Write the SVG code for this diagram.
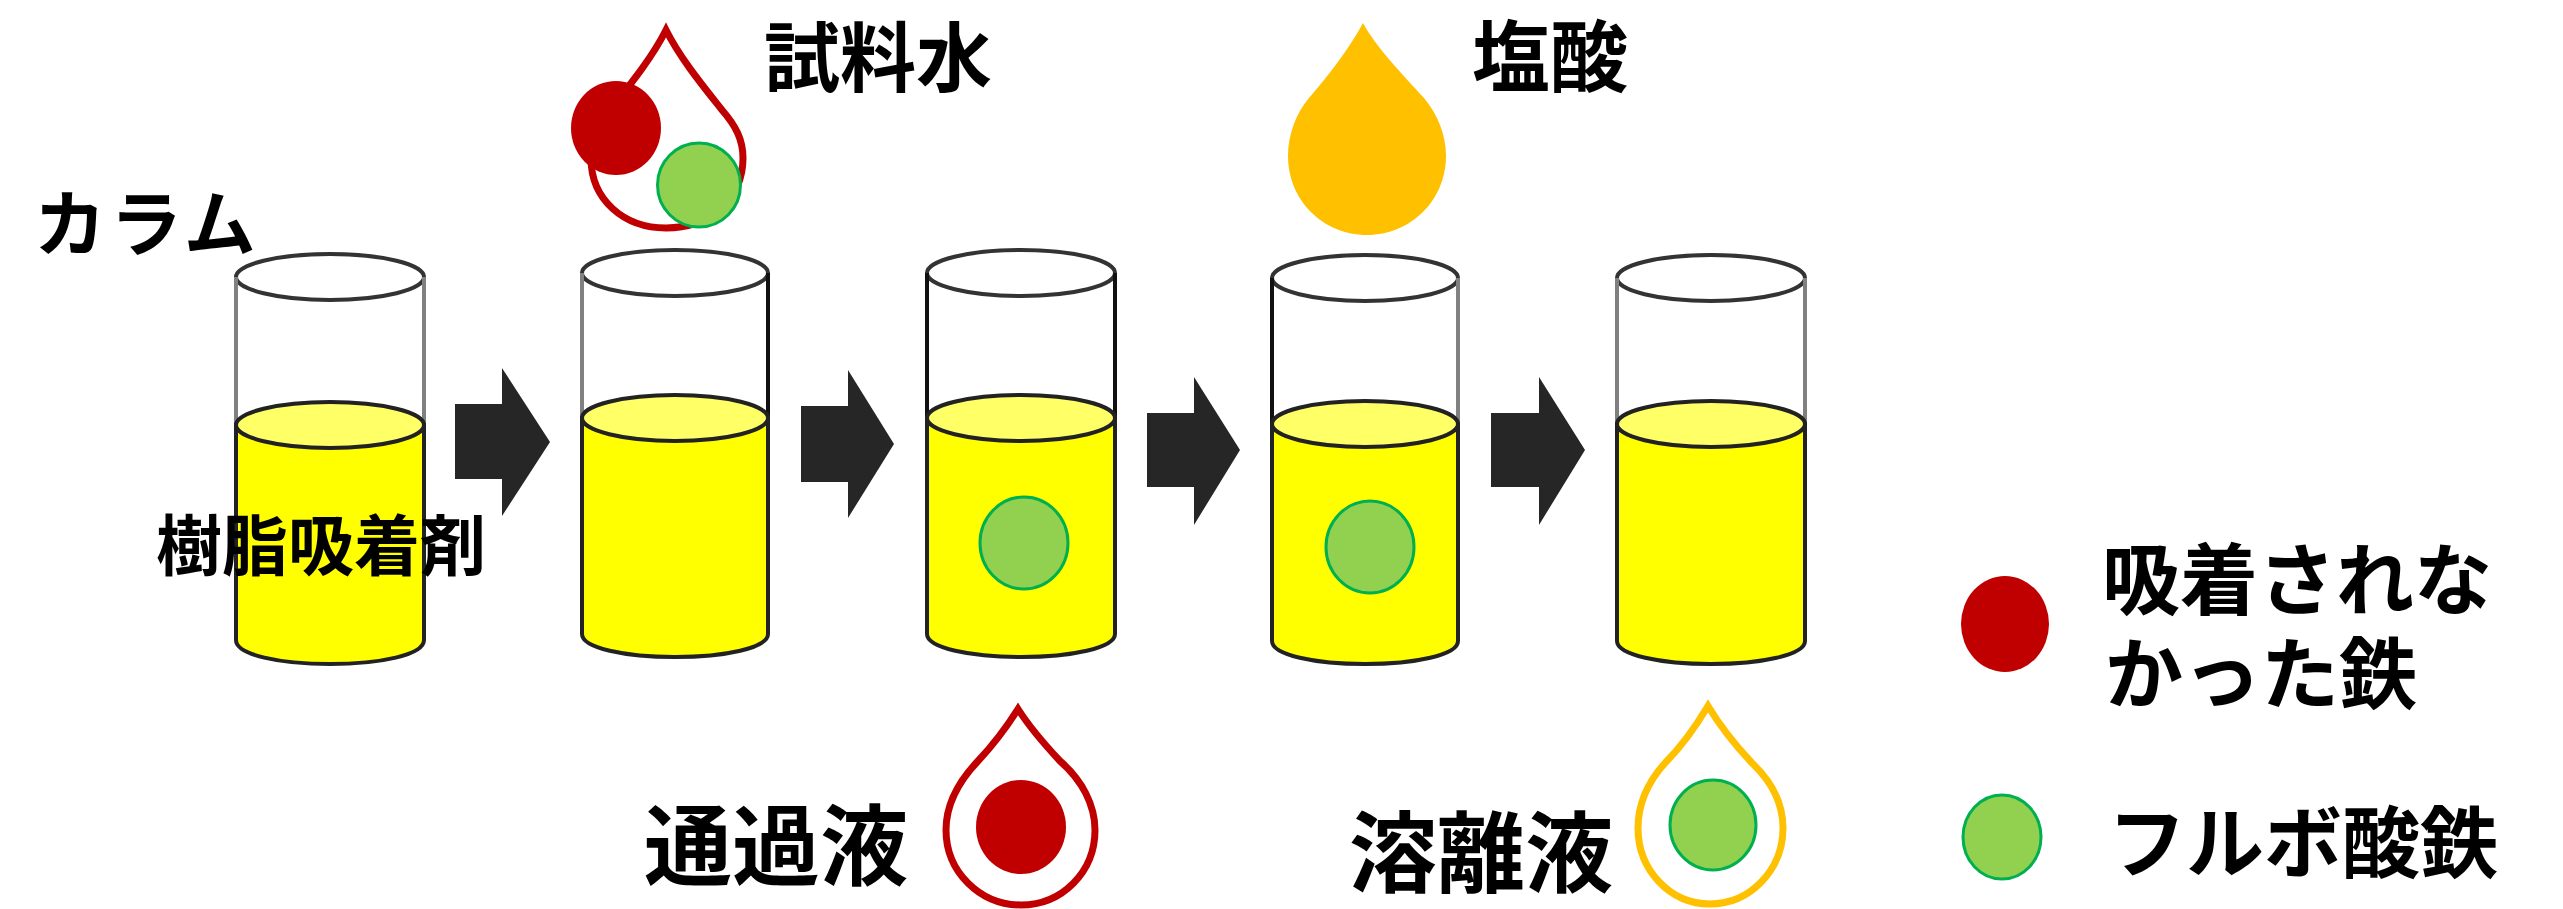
<svg xmlns="http://www.w3.org/2000/svg" width="2563" height="909" viewBox="0 0 2563 909">
  <style>
    text { font-family: "Noto Sans CJK JP", "Noto Sans", sans-serif; font-weight: 700; fill: #000; }
    .rim { fill: #fff; stroke: #333; stroke-width: 4; }
    .wall { fill: none; stroke-width: 4; }
    .liquid { fill: #ff0; stroke: #222; stroke-width: 4; }
    .surface { fill: #ff6; stroke: #222; stroke-width: 4; }
    .fe-red { fill: #c00000; }
    .fe-green { fill: #92d050; stroke: #00b050; stroke-width: 3; }
    .step { fill: #262626; }
    .drop-red { fill: #fff; stroke: #c00000; stroke-width: 7; }
    .drop-amber { fill: #fff; stroke: #ffc000; stroke-width: 7; }
  </style>

  <!-- Process-step arrows between the columns -->
  <g id="connectors">
    <path class="step" d="M455 404H502V368L550 442L502 516V479H455Z"/>
    <path class="step" d="M801 406H848V370L894 444L848 518V482H801Z"/>
    <path class="step" d="M1147 413H1194V377L1240 450L1194 525V487H1147Z"/>
    <path class="step" d="M1491 413H1539V377L1585 450L1539 525V487H1491Z"/>
  </g>

  <!-- Column 1: resin only -->
  <g id="column-1">
    <ellipse class="rim" cx="330" cy="277" rx="94" ry="23"/>
    <path class="wall" stroke="#808080" d="M236 277V425M424 277V425"/>
    <path class="liquid" d="M236 425V640C236 655 280 664 330 664C380 664 424 655 424 640V425Z"/>
    <ellipse class="surface" cx="330" cy="425" rx="94" ry="23"/>
    <text x="156" y="570" font-size="66">樹脂吸着剤</text>
  </g>
  <text id="label-column" x="34" y="250" font-size="72" letter-spacing="4">カラム</text>

  <!-- Column 2: sample water is added -->
  <g id="column-2">
    <ellipse class="rim" cx="675" cy="273" rx="93" ry="23"/>
    <path class="wall" stroke="#808080" d="M582 273V418"/>
    <path class="wall" stroke="#111" d="M768 273V418"/>
    <path class="liquid" d="M582 418V634C582 648 625 657 675 657C725 657 768 648 768 634V418Z"/>
    <ellipse class="surface" cx="675" cy="418" rx="93" ry="23"/>
  </g>
  <g id="drop-sample">
    <path class="drop-red" d="M666 30C680 58 703 86 722 110C736 126 743 140 743 158C743 200 708 228 666 228C624 228 591 200 591 158C591 140 598 125 610 110C629 86 652 58 666 30Z"/>
    <ellipse class="fe-red" cx="616" cy="128" rx="45" ry="47"/>
    <ellipse class="fe-green" cx="699" cy="185" rx="41.500" ry="42"/>
    <text x="764" y="86" font-size="76">試料水</text>
  </g>

  <!-- Column 3: fulvic iron held in the resin -->
  <g id="column-3">
    <ellipse class="rim" cx="1021" cy="273" rx="94" ry="23"/>
    <path class="wall" stroke="#111" d="M927 273V418M1115 273V418"/>
    <path class="liquid" d="M927 418V634C927 648 971 657 1021 657C1071 657 1115 648 1115 634V418Z"/>
    <ellipse class="surface" cx="1021" cy="418" rx="94" ry="23"/>
    <ellipse class="fe-green" cx="1024" cy="543" rx="44" ry="46"/>
  </g>
  <g id="drop-passthrough">
    <path class="drop-red" d="M1018 709C1030 728 1046 746 1060 761C1082 780 1095 805 1095 830C1095 872 1062 905 1021 905C980 905 946 872 946 830C946 805 958 782 978 761C992 746 1006 728 1018 709Z"/>
    <ellipse class="fe-red" cx="1021" cy="827" rx="45" ry="47"/>
    <text x="644" y="878" font-size="88">通過液</text>
  </g>

  <!-- Column 4: hydrochloric acid is added -->
  <g id="column-4">
    <ellipse class="rim" cx="1365" cy="278" rx="93" ry="23"/>
    <path class="wall" stroke="#111" d="M1272 278V424"/>
    <path class="wall" stroke="#808080" d="M1458 278V424"/>
    <path class="liquid" d="M1272 424V641C1272 655 1315 664 1365 664C1415 664 1458 655 1458 641V424Z"/>
    <ellipse class="surface" cx="1365" cy="424" rx="93" ry="23"/>
    <ellipse class="fe-green" cx="1370" cy="547" rx="44" ry="46"/>
  </g>
  <g id="drop-acid">
    <path fill="#ffc000" d="M1363 23C1376 47 1402 74 1424 98C1438 115 1446 135 1446 156C1446 200 1411 235 1367 235C1323 235 1288 200 1288 156C1288 135 1296 113 1309 98C1330 74 1350 47 1363 23Z"/>
    <text x="1472" y="86" font-size="78">塩酸</text>
  </g>

  <!-- Column 5: resin after elution -->
  <g id="column-5">
    <ellipse class="rim" cx="1711" cy="278" rx="94" ry="23"/>
    <path class="wall" stroke="#808080" d="M1617 278V424M1805 278V424"/>
    <path class="liquid" d="M1617 424V641C1617 655 1661 664 1711 664C1761 664 1805 655 1805 641V424Z"/>
    <ellipse class="surface" cx="1711" cy="424" rx="94" ry="23"/>
  </g>
  <g id="drop-eluate">
    <path class="drop-amber" d="M1708 706C1720 726 1736 746 1752 763C1772 782 1783 805 1783 828C1783 870 1750 904 1710 904C1670 904 1638 870 1638 828C1638 805 1648 782 1665 763C1682 746 1696 726 1708 706Z"/>
    <ellipse class="fe-green" cx="1713" cy="825" rx="43" ry="45"/>
    <text x="1349" y="885" font-size="88">溶離液</text>
  </g>

  <!-- Legend -->
  <g id="legend-unadsorbed">
    <ellipse class="fe-red" cx="2005" cy="624" rx="44" ry="48"/>
    <text x="2102" y="609" font-size="78">吸着されな</text>
    <text x="2105" y="703" font-size="78">かった鉄</text>
  </g>
  <g id="legend-fulvic">
    <ellipse class="fe-green" cx="2002" cy="837" rx="39" ry="42"/>
    <text x="2108" y="872" font-size="78">フルボ酸鉄</text>
  </g>
</svg>
